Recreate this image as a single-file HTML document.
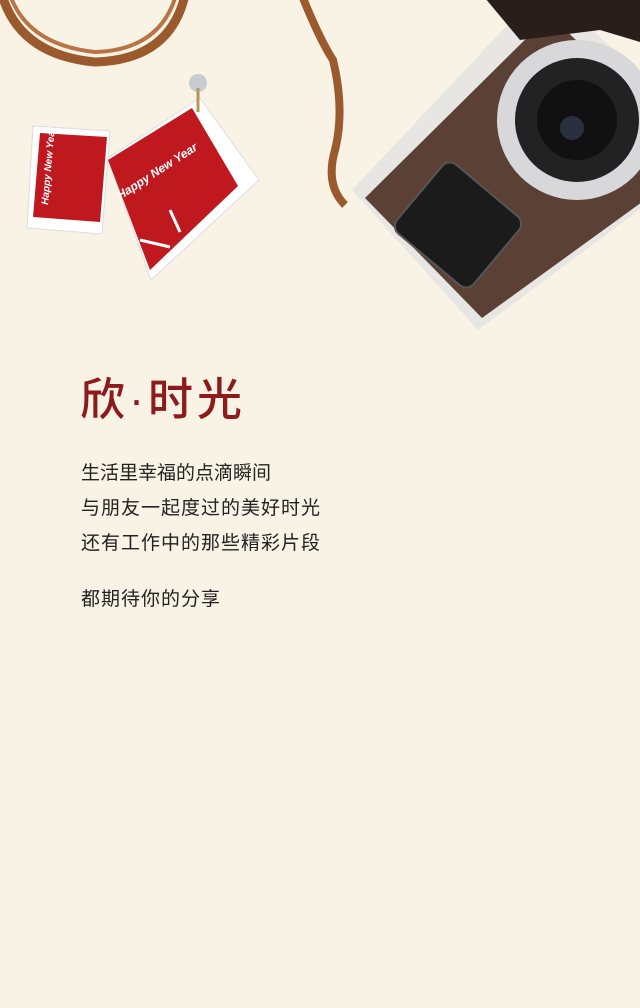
<!DOCTYPE html>
<html><head><meta charset="utf-8"><style>
html,body{margin:0;padding:0}
body{width:640px;height:1008px;background:#f9f3e6;position:relative;overflow:hidden;font-family:"Liberation Sans","Noto Sans CJK SC",sans-serif}
svg{position:absolute;left:0;top:0}
.title{position:absolute;left:80px;top:370px;font-size:45px;color:#8e1b1b;letter-spacing:4px;line-height:60px;font-weight:500}
.line{position:absolute;left:81px;font-size:19px;color:#222;line-height:24px;letter-spacing:1px}
</style></head><body>
<svg width="640" height="340">
  <g>
    <path d="M2,-5 Q20,55 95,62 Q170,60 185,-5" fill="none" stroke="#9a5a2e" stroke-width="9"/>
    <path d="M10,-5 Q28,45 95,52 Q160,50 176,-5" fill="none" stroke="#b87444" stroke-width="4"/>
  </g>
  <g>
    <polygon points="33,126 110,131 102,234 27,228" fill="#fff" stroke="#ddd"/>
    <polygon points="40,133 107,137 100,222 33,217" fill="#c0181f"/>
    <text x="0" y="0" transform="translate(48,205) rotate(-85)" fill="#fff" font-size="10" font-style="italic" font-weight="bold">Happy New Year</text>
  </g>
  <g>
    <polygon points="108,158 200,98 259,180 151,280" fill="#fff" stroke="#ddd"/>
    <polygon points="108,160 192,108 238,186 150,270" fill="#c0181f"/>
    <text x="0" y="0" transform="translate(120,200) rotate(-33)" fill="#fff" font-size="12" font-style="italic" font-weight="bold">Happy New Year</text>
    <line x1="170" y1="210" x2="180" y2="232" stroke="#fff" stroke-width="3"/>
    <line x1="140" y1="240" x2="170" y2="247" stroke="#fff" stroke-width="3"/>
    <circle cx="198" cy="83" r="9" fill="#c8ccd0"/>
    <line x1="198" y1="88" x2="198" y2="112" stroke="#b29a55" stroke-width="3"/>
  </g>
  <g>
    <path d="M303,-2 Q320,40 333,60 Q345,110 335,150 Q325,185 345,205" fill="none" stroke="#9a5a2e" stroke-width="8"/>
  </g>
  <g>
    <polygon points="352,190 545,-15 720,150 478,330" fill="#e8e6e2"/>
    <polygon points="365,198 550,15 700,160 482,318" fill="#5a4035"/>
    <polygon points="470,-20 700,-20 700,60 600,30 520,40" fill="#2a1e1a"/>
    <circle cx="577" cy="120" r="80" fill="#d8d8da"/>
    <circle cx="577" cy="120" r="62" fill="#222"/>
    <circle cx="577" cy="120" r="40" fill="#111"/>
    <circle cx="572" cy="128" r="12" fill="#2a3040"/>
    <g transform="rotate(40 458 225)"><rect x="408" y="180" width="100" height="90" rx="10" fill="#1b1b1b" stroke="#555" stroke-width="2"/></g>
  </g>
</svg>
<div class="title">欣·时光</div>
<div class="line" style="top:462px;letter-spacing:0">生活里幸福的点滴瞬间</div>
<div class="line" style="top:497px">与朋友一起度过的美好时光</div>
<div class="line" style="top:532px">还有工作中的那些精彩片段</div>
<div class="line" style="top:588px">都期待你的分享</div>
</body></html>
